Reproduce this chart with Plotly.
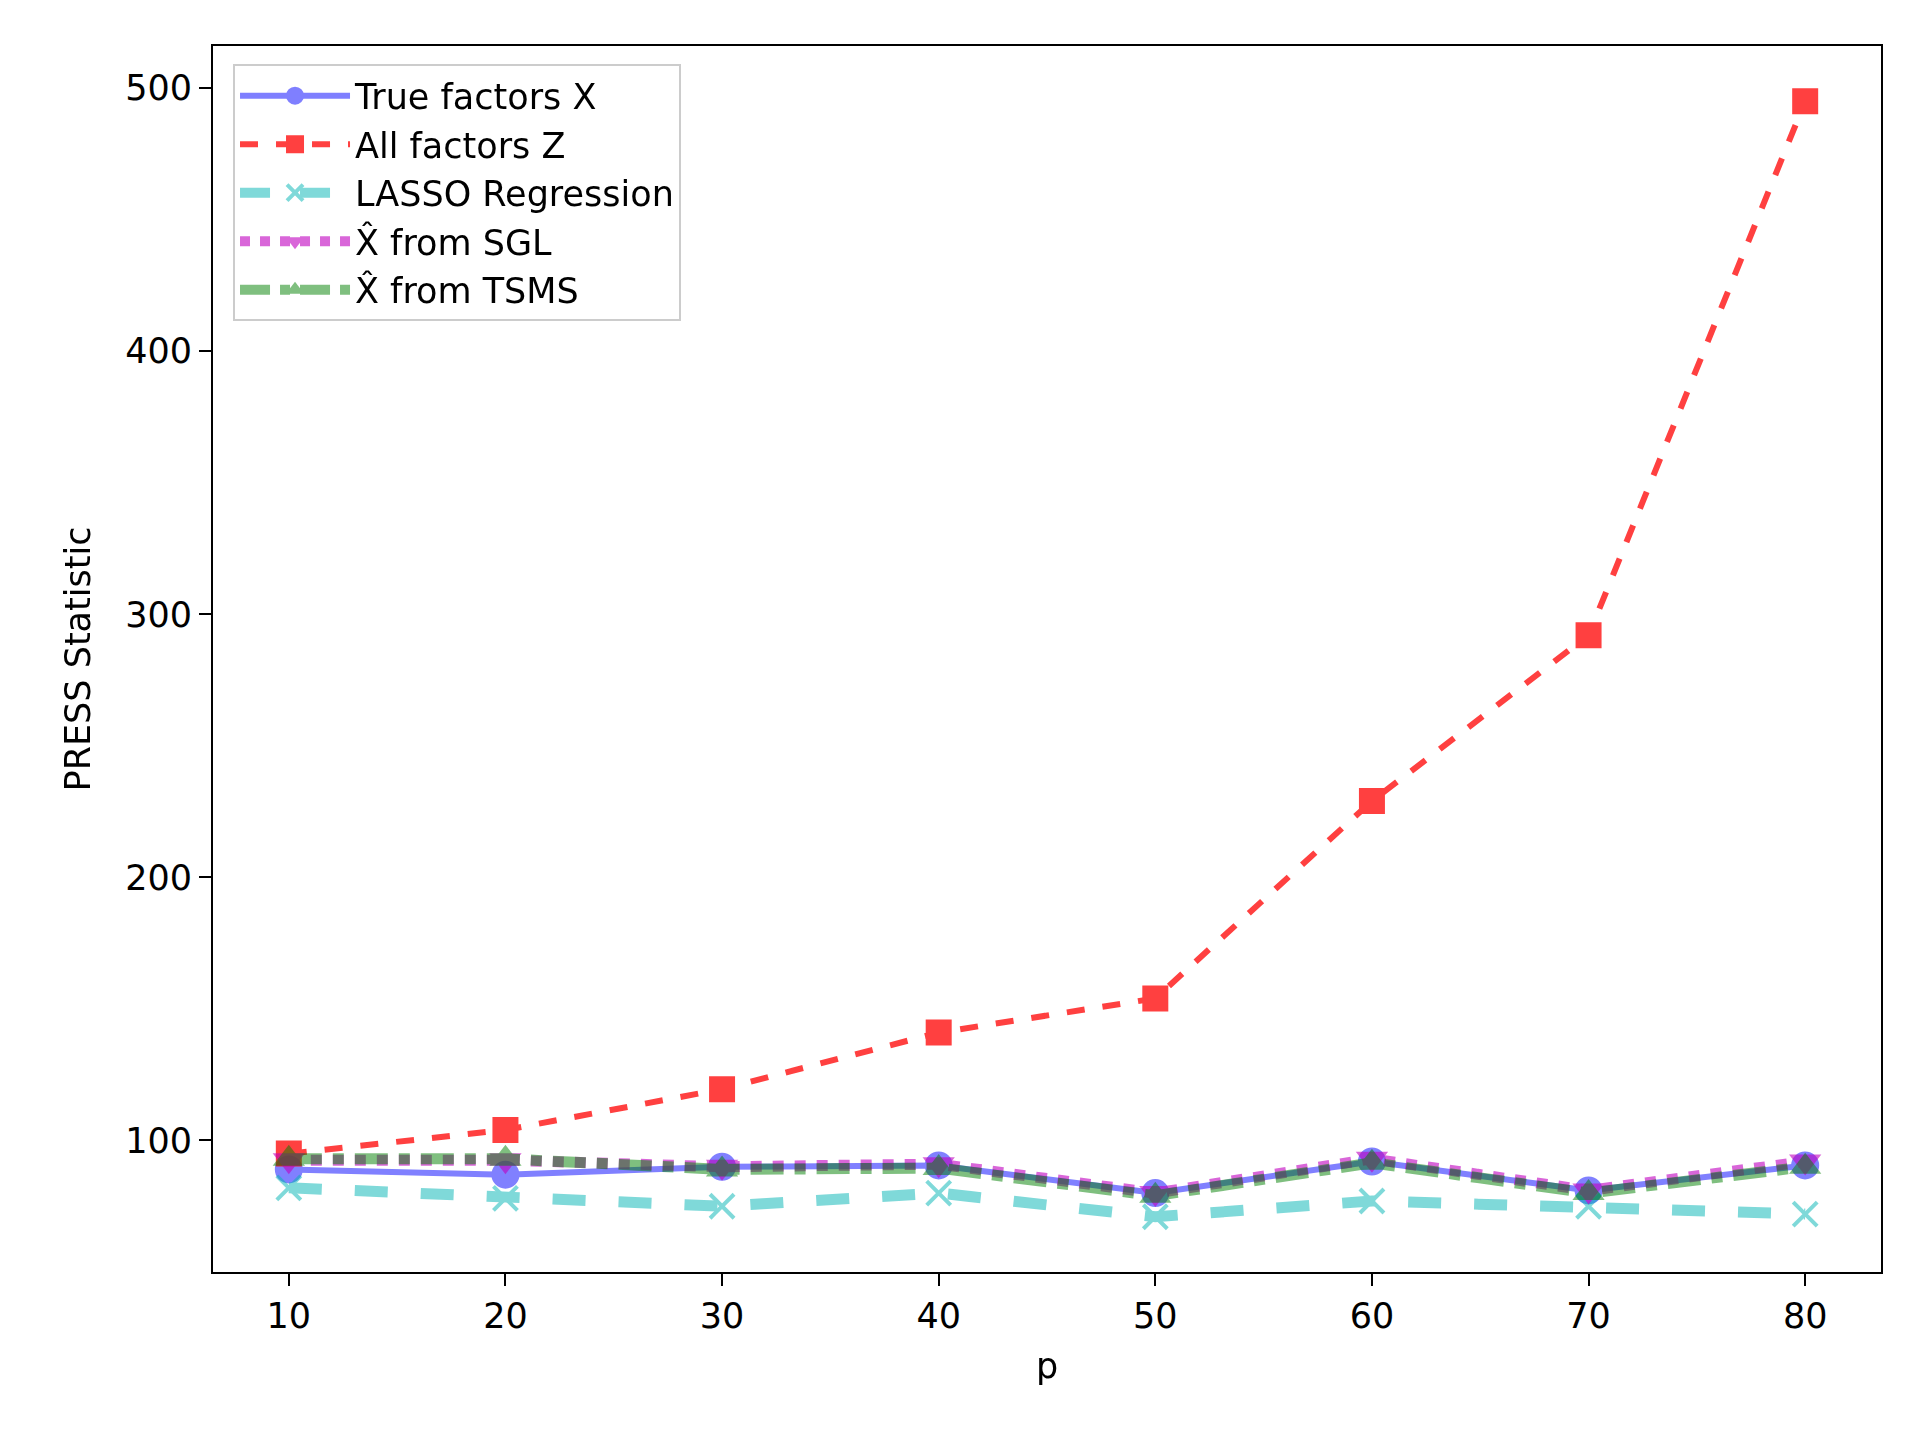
import plotly.graph_objects as go

p = [10, 20, 30, 40, 50, 60, 70, 80]
true_x = [89, 87, 90, 90.5, 80, 92, 81, 90.5]
all_z = [95, 104, 119.5, 141, 154, 229, 292, 495]
lasso = [82, 78, 75, 80, 71, 77, 75, 72]
sgl = [92.5, 92.5, 90, 91, 80, 93, 81, 92]
tsms = [93, 93, 89, 89.5, 79, 91.5, 80, 90]

FONT = "DejaVu Sans"

fig = go.Figure()
fig.add_trace(go.Scatter(x=p, y=true_x, name="True factors X", mode="lines+markers",
                         opacity=0.5, line=dict(color="blue", width=6),
                         marker=dict(symbol="circle", size=26, color="blue",
                                     line=dict(color="blue", width=2))))
fig.add_trace(go.Scatter(x=p, y=all_z, name="All factors Z", mode="lines+markers",
                         opacity=0.75, line=dict(color="red", width=6, dash="dash"),
                         marker=dict(symbol="square", size=24, color="red",
                                     line=dict(color="red", width=2))))
fig.add_trace(go.Scatter(x=p, y=lasso, name="LASSO Regression", mode="lines+markers",
                         opacity=0.5, line=dict(color="#00b4b4", width=11, dash="dash"),
                         marker=dict(symbol="x-thin", size=24, line=dict(color="#00b4b4", width=4))))
fig.add_trace(go.Scatter(x=p, y=sgl, name="X̂ from SGL", mode="lines+markers",
                         opacity=0.6, line=dict(color="#c000c0", width=11, dash="dot"),
                         marker=dict(symbol="triangle-down", size=28, color="#c000c0")))
fig.add_trace(go.Scatter(x=p, y=tsms, name="X̂ from TSMS", mode="lines+markers",
                         opacity=0.5, line=dict(color="green", width=11, dash="dashdot"),
                         marker=dict(symbol="triangle-up", size=28, color="green")))

axis = dict(showgrid=False, zeroline=False, showline=True, linecolor="black", linewidth=2,
            mirror=True, ticks="outside", ticklen=12, tickwidth=2, tickcolor="black",
            tickfont=dict(size=35, color="black"))
fig.update_layout(
    width=1920, height=1440,
    paper_bgcolor="white", plot_bgcolor="white",
    font=dict(family=FONT, size=35, color="black"),
    margin=dict(l=205, r=47, t=38, b=176),
    xaxis=dict(axis, range=[6.5, 83.5], tickvals=p,
               title=dict(text="p", font=dict(size=35), standoff=18)),
    yaxis=dict(axis, range=[50, 516], tickvals=[100, 200, 300, 400, 500],
               title=dict(text="PRESS Statistic", font=dict(size=35), standoff=24)),
    legend=dict(x=0.012, y=0.985, xanchor="left", yanchor="top",
                bgcolor="rgba(255,255,255,0.8)", bordercolor="#cccccc", borderwidth=2,
                font=dict(size=35), itemwidth=110, tracegroupgap=20,
                itemsizing="trace"),
)
fig.write_html("out.html")
